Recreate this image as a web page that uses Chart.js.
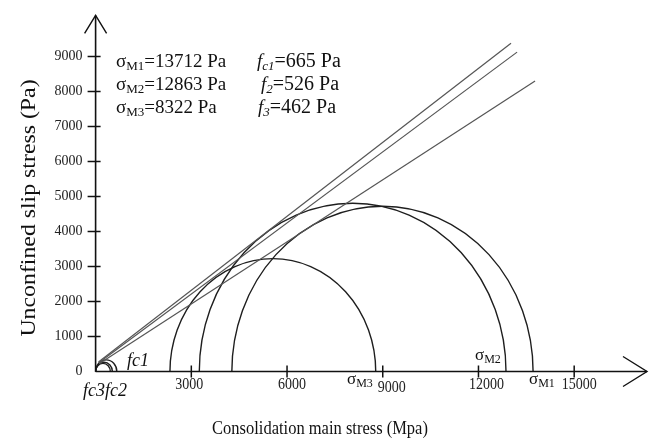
<!DOCTYPE html>
<html>
<head>
<meta charset="utf-8">
<script src="https://cdn.jsdelivr.net/npm/chart.js@4.4.0/dist/chart.umd.min.js"></script>
<style>
  html, body { margin: 0; padding: 0; background: #fff; }
  canvas { display: block; }
</style>
</head>
<body>
<canvas id="chart" width="658" height="443"></canvas>
<script>
// tick labels
const xTicks = [3000, 6000, 9000, 12000, 15000];
const yTicks = [0, 1000, 2000, 3000, 4000, 5000, 6000, 7000, 8000, 9000];

// values printed in the legend text
const sigmaM = [13712, 12863, 8322];
const fcValues = [665, 526, 462];

// Mohr semicircles as drawn: left / right end on the x axis (Pa)
const circleLeft = [4270, 3250, 2330, 0, 0, 0];
const circleRight = [13712, 12863, 8780, 665, 526, 462];

// yield loci (straight lines)
const lineStartX = [90, 100, 110];
const lineStartY = [270, 250, 220];
const lineEndX = [13020, 13210, 13774];
const lineEndY = [9377, 9122, 8300];

const SERIF = '"Liberation Serif", "Times New Roman", serif';

// small horizontal nudges of the x tick labels, as in the original figure
const xLabelShift = [-2, 5, 9, 8, 5];

function richText(ctx, x, y, parts) {
  // parts: [text, size, italic, subscript]
  let cx = x;
  parts.forEach(([t, size, italic, sub]) => {
    ctx.font = (italic ? 'italic ' : '') + size + 'px ' + SERIF;
    ctx.fillText(t, cx, y + (sub ? 3 : 0));
    cx += ctx.measureText(t).width;
  });
}

const mohrPlugin = {
  id: 'mohr',
  beforeDatasetsDraw(chart) {
    const ctx = chart.ctx;
    const xs = chart.scales.x, ys = chart.scales.y;
    const y0 = ys.getPixelForValue(0);
    ctx.save();
    ctx.strokeStyle = '#1e1e1e';
    ctx.lineWidth = 1.4;
    for (let i = 0; i < circleLeft.length; i++) {
      const c = (circleLeft[i] + circleRight[i]) / 2;
      const r = (circleRight[i] - circleLeft[i]) / 2;
      const cx = xs.getPixelForValue(c);
      const rx = xs.getPixelForValue(circleRight[i]) - cx;
      const ry = y0 - ys.getPixelForValue(r);
      ctx.beginPath();
      ctx.ellipse(cx, y0, rx, ry, 0, Math.PI, 2 * Math.PI);
      ctx.stroke();
    }
    ctx.restore();
  },
  afterDraw(chart) {
    const ctx = chart.ctx;
    const xs = chart.scales.x, ys = chart.scales.y;
    const x0 = xs.getPixelForValue(0), y0 = ys.getPixelForValue(0);
    ctx.save();
    ctx.strokeStyle = '#111';
    ctx.lineWidth = 1.6;
    // axes
    const xEnd = xs.right + 9, yEnd = ys.top - 6;
    ctx.beginPath();
    ctx.moveTo(x0, y0); ctx.lineTo(xEnd, y0);
    ctx.moveTo(x0, y0); ctx.lineTo(x0, yEnd);
    ctx.stroke();
    // arrow heads
    ctx.lineWidth = 1.4;
    ctx.beginPath();
    ctx.moveTo(xEnd - 24, y0 - 15); ctx.lineTo(xEnd, y0); ctx.lineTo(xEnd - 24, y0 + 15);
    ctx.moveTo(x0 - 11, yEnd + 18); ctx.lineTo(x0, yEnd); ctx.lineTo(x0 + 11, yEnd + 18);
    ctx.stroke();
    // tick crosses
    ctx.lineWidth = 1.5;
    ctx.beginPath();
    xTicks.forEach(v => {
      const p = xs.getPixelForValue(v);
      ctx.moveTo(p, y0 - 6); ctx.lineTo(p, y0 + 6);
    });
    yTicks.forEach(v => {
      if (v === 0) return;
      const p = ys.getPixelForValue(v);
      ctx.moveTo(x0 - 8, p); ctx.lineTo(x0 + 5, p);
    });
    ctx.stroke();

    // x tick labels (slightly tall, like the source figure)
    ctx.fillStyle = '#222';
    ctx.textAlign = 'center';
    ctx.textBaseline = 'middle';
    xTicks.forEach((v, i) => {
      ctx.save();
      ctx.translate(xs.getPixelForValue(v) + xLabelShift[i], y0 + 13 + (v === 9000 ? 3 : 0));
      ctx.scale(1, 1.25);
      ctx.font = '14px ' + SERIF;
      ctx.fillText(String(v), 0, 0);
      ctx.restore();
    });

    // axis titles
    ctx.fillStyle = '#111';
    ctx.save();
    ctx.translate(30, 208);
    ctx.rotate(-Math.PI / 2);
    ctx.scale(1.19, 1);
    ctx.font = '20px ' + SERIF;
    ctx.fillText('Unconfined slip stress (Pa)', 0, 0);
    ctx.restore();
    ctx.save();
    ctx.translate(320, 429);
    ctx.scale(1, 1.2);
    ctx.font = '16.5px ' + SERIF;
    ctx.fillText('Consolidation main stress (Mpa)', 0, 0);
    ctx.restore();

    // legend text
    ctx.textAlign = 'left';
    ctx.textBaseline = 'alphabetic';
    const rowY = [66.7, 90, 113.3];
    const fLeft = [257, 261, 258];
    for (let i = 0; i < 3; i++) {
      richText(ctx, 116, rowY[i], [['σ', 19], ['M' + (i + 1), 13, false, true], ['=' + sigmaM[i] + ' Pa', 19]]);
      const sub = i === 0 ? 'c1' : String(i + 1);
      richText(ctx, fLeft[i], rowY[i], [['f', 19, true], [sub, 13, true, true], ['=' + fcValues[i] + ' Pa', 20]]);
    }
    // labels on the axis
    richText(ctx, 347, 384, [['σ', 17], ['M3', 12, false, true]]);
    richText(ctx, 475, 360, [['σ', 17], ['M2', 12, false, true]]);
    richText(ctx, 529, 384, [['σ', 17], ['M1', 12, false, true]]);
    richText(ctx, 127, 366, [['fc1', 18, true]]);
    richText(ctx, 83, 396, [['fc3fc2', 18, true]]);
    ctx.restore();
  }
};

const datasets = lineEndX.map((_, i) => ({
  data: [{ x: lineStartX[i], y: lineStartY[i] }, { x: lineEndX[i], y: lineEndY[i] }],
  borderColor: '#555',
  borderWidth: 1.2,
  pointRadius: 0,
  fill: false,
  tension: 0
}));

new Chart(document.getElementById('chart'), {
  type: 'line',
  data: { datasets },
  plugins: [mohrPlugin],
  options: {
    responsive: false,
    animation: false,
    events: [],
    layout: { padding: { top: 18, right: 20, left: 0, bottom: 0 } },
    plugins: { legend: { display: false }, tooltip: { enabled: false } },
    scales: {
      x: {
        type: 'linear',
        min: 0,
        max: 17000,
        afterBuildTicks: s => { s.ticks = xTicks.map(v => ({ value: v })); },
        afterFit: s => { s.height = 71.5; },
        grid: { display: false, drawTicks: false },
        border: { display: false },
        ticks: { display: false }
      },
      y: {
        type: 'linear',
        min: 0,
        max: 10000,
        afterBuildTicks: s => { s.ticks = yTicks.map(v => ({ value: v })); },
        afterFit: s => { s.width = 95.6; },
        grid: { display: false, drawTicks: false },
        border: { display: false },
        ticks: {
          padding: 13,
          color: '#222',
          font: { family: SERIF, size: 14 },
          callback: v => String(v)
        }
      }
    }
  }
});
</script>
</body>
</html>
